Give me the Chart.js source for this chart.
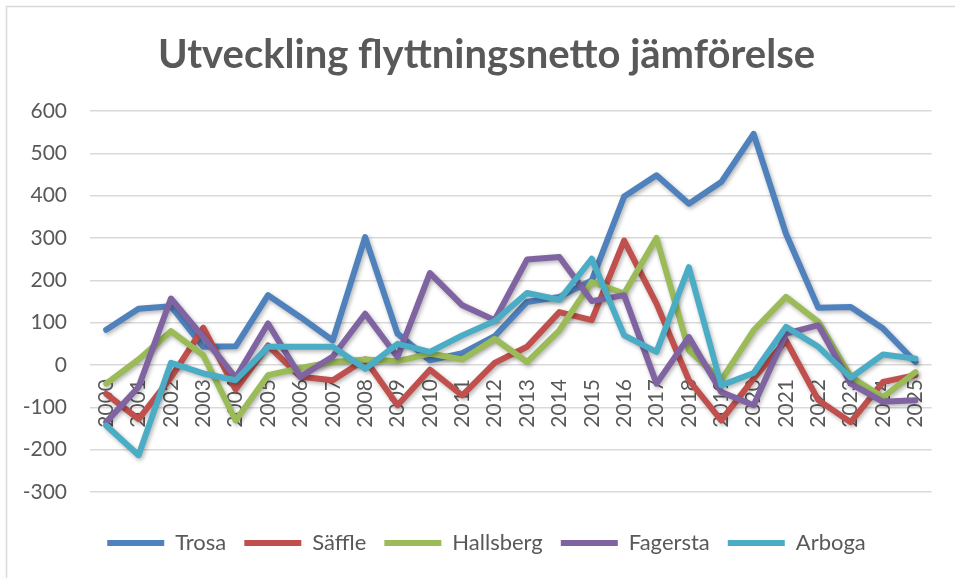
<!DOCTYPE html>
<html>
<head>
<meta charset="utf-8">
<script src="https://cdn.jsdelivr.net/npm/chart.js@4.4.1/dist/chart.umd.min.js"></script>
<style>
  html, body { margin: 0; padding: 0; background: #fff; }
  #wrap { width: 955px; height: 578px; position: relative; }
</style>
</head>
<body>
<div id="wrap"><canvas id="flyttChart"></canvas></div>
<script>
const years = ['2000', '2001', '2002', '2003', '2004', '2005', '2006', '2007', '2008', '2009',
    '2010', '2011', '2012', '2013', '2014', '2015', '2016', '2017', '2018', '2019',
    '2020', '2021', '2022', '2023', '2024', '2025'];

const trosa = [83, 133, 139, 43, 44, 165, 113, 58, 302, 74, 11, 28, 68, 149, 161, 200, 398, 448, 381, 432, 546, 310, 135, 137, 86, 7];
const saffle = [-68, -128, -30, 88, -58, 46, -28, -36, 13, -95, -11, -72, 5, 43, 125, 106, 294, 145, -36, -131, -32, 58, -83, -135, -40, -24];
const hallsberg = [-44, 13, 80, 23, -131, -24, -7, 7, 13, 9, 27, 13, 62, 7, 82, 196, 169, 300, 35, -36, 82, 161, 102, -28, -76, -17];
const fagersta = [-135, -52, 157, 66, -30, 98, -28, 20, 121, 19, 217, 141, 106, 249, 255, 151, 165, -44, 66, -64, -95, 74, 94, -44, -87, -83];
const arboga = [-143, -213, 5, -20, -36, 43, 43, 43, -9, 50, 31, 70, 104, 170, 154, 251, 70, 31, 231, -48, -19, 90, 43, -30, 25, 15];

const yMin = -300;
const yMax = 600;
const yStep = 100;

const textColor = '#595959';
const gridColor = '#d9d9d9';
const fontFamily = 'Lato, "Open Sans", sans-serif';

function makeSeries(label, data, color, order) {
    return {
        label: label,
        data: data,
        borderColor: color,
        backgroundColor: color,
        borderWidth: 6,
        borderJoinStyle: 'round',
        borderCapStyle: 'round',
        pointRadius: 0,
        pointHoverRadius: 0,
        pointStyle: 'line',
        tension: 0,
        order: order
    };
}

// Excel style drop shadow under each line
const lineShadow = {
    id: 'lineShadow',
    beforeDatasetDraw(chart) {
        const c = chart.ctx;
        c.save();
        c.shadowColor = 'rgba(0, 0, 0, 0.3)';
        c.shadowBlur = 4;
        c.shadowOffsetX = 1.5;
        c.shadowOffsetY = 2;
    },
    afterDatasetDraw(chart) {
        chart.ctx.restore();
    }
};

// light frame of the chart area (only left/top edge visible in the picture)
const chartFrame = {
    id: 'chartFrame',
    beforeDraw(chart) {
        const c = chart.ctx;
        c.save();
        c.strokeStyle = gridColor;
        c.lineWidth = 1.5;
        c.strokeRect(6.5, 6.5, 1000, 1000);
        c.restore();
    }
};

const ctx = document.getElementById('flyttChart').getContext('2d');

const myChart = new Chart(ctx, {
    type: 'line',
    data: {
        labels: years,
        datasets: [
            makeSeries('Trosa', trosa, '#4F81BD', 5),
            makeSeries('Säffle', saffle, '#C0504D', 4),
            makeSeries('Hallsberg', hallsberg, '#9BBB59', 3),
            makeSeries('Fagersta', fagersta, '#8064A2', 2),
            makeSeries('Arboga', arboga, '#4BACC6', 1)
        ]
    },
    options: {
        responsive: true,
        maintainAspectRatio: false,
        animation: false,
        layout: {
            padding: { left: 24, right: 6, top: 0, bottom: 14 }
        },
        plugins: {
            title: {
                display: true,
                text: 'Utveckling flyttningsnetto jämförelse',
                color: textColor,
                font: { family: fontFamily, size: 40, weight: 'bold' },
                padding: { top: 31, bottom: 32 }
            },
            legend: {
                position: 'bottom',
                // empty title only used as spacer between plot and legend
                title: {
                    display: true,
                    text: ' ',
                    color: 'rgba(0,0,0,0)',
                    font: { size: 10, lineHeight: 1 },
                    padding: { top: 12, bottom: 0 }
                },
                labels: {
                    color: textColor,
                    font: { family: fontFamily, size: 22 },
                    usePointStyle: true,
                    pointStyleWidth: 57,
                    padding: 18,
                    sort: (a, b) => a.datasetIndex - b.datasetIndex
                }
            },
            tooltip: { enabled: false }
        },
        scales: {
            x: {
                type: 'category',
                offset: true,
                position: { y: 0 },
                grid: { display: false, drawTicks: false },
                border: { display: false },
                ticks: {
                    color: textColor,
                    font: { family: fontFamily, size: 21 },
                    minRotation: 90,
                    maxRotation: 90,
                    autoSkip: false,
                    padding: 14
                }
            },
            y: {
                min: yMin,
                max: yMax,
                grid: { color: gridColor, lineWidth: 1.5, drawTicks: false },
                border: { display: false },
                afterFit: (scale) => { scale.width = 66; },
                ticks: {
                    stepSize: yStep,
                    color: textColor,
                    font: { family: fontFamily, size: 21 },
                    padding: 23
                }
            },
            // empty right margin so the title stays centred like the original
            yRight: {
                axis: 'y',
                type: 'linear',
                position: 'right',
                min: yMin,
                max: yMax,
                grid: { display: false, drawTicks: false },
                border: { display: false },
                ticks: { display: false },
                afterFit: (scale) => { scale.width = 12; }
            }
        }
    },
    plugins: [chartFrame, lineShadow]
});
</script>
</body>
</html>
